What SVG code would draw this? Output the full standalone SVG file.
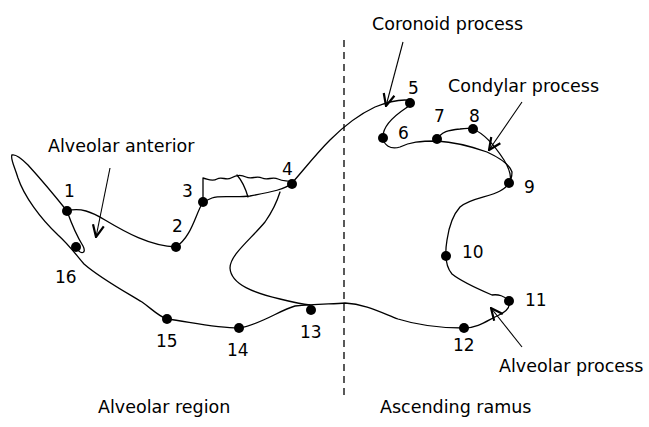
<svg xmlns="http://www.w3.org/2000/svg" width="649" height="427" viewBox="0 0 649 427">
<defs>
<marker id="v" viewBox="0 0 14 14" refX="13" refY="7" markerWidth="14" markerHeight="14" markerUnits="userSpaceOnUse" orient="auto">
<path d="M1,1.5 L13,7 L1,12.5" fill="none" stroke="#000" stroke-width="2.2"/>
</marker>
<style>
.o{fill:none;stroke:#000;stroke-width:1.3;stroke-linejoin:round;stroke-linecap:round}
.a{fill:none;stroke:#000;stroke-width:1.1}
.d{fill:#000}
text{font-family:"DejaVu Sans","Verdana",sans-serif;fill:#000}
.n{font-size:17px}
.l{font-size:17.5px}
</style>
</defs>
<rect width="649" height="427" fill="#fff"/>
<g id="outline">
<path class="o" d="M12,155 C10,158 14,165 18,178 C24,196 40,218 58,235 C68,244 74,252 84,264 C100,278 122,290 142,302 C152,309 158,316 167,319 C190,322 215,328 239,328 C260,325 280,310 295,306 C315,304 332,304 345,303 C365,304 380,312 398,319 C420,326 440,328 464,328 C478,328 488,320 497,316 C504,313 511,308 509,301"/>
<path class="o" d="M509,301 C505,296 498,294 492,295 C478,289 462,282 452,274 C445,266 445,252 447,240 C449,226 452,216 460,207 C470,198 490,197 500,191 C508,187 512,180 512,172 C510,165 500,158 487,152 C470,146 455,142 437,141 C420,141 410,142 400,147 C390,150 384,145 383,138 C382,126 394,116 406,108 C412,104 411,100 405,100 C395,100 385,103 375,107 C360,114 345,125 330,140 C315,155 302,172 292,183"/>
<path class="o" d="M437,141 C440,131 450,130 460,129 C466,128 470,128 473,129 C485,134 495,146 504,160 C509,168 512,175 510,183"/>
<path class="o" d="M292,183 C286,189 272,192 250,196 C235,198 220,195 212,198 L203,202"/>
<path class="o" d="M203,202 C195,215 192,236 176,247"/>
<path class="o" d="M67,211 C80,207 92,212 105,220 C125,232 150,246 176,247"/>
<path class="o" d="M67,211 C55,196 38,176 28,165 C20,157 15,154 12,155"/>
<path class="o" d="M67,211 C72,225 78,238 83,246 C87,253 81,256 76,247"/>
<path class="o" d="M280,192 C276,205 272,212 265,222 C250,240 230,255 230,268 C231,285 255,293 280,299 C292,302 300,304 310,305"/>
<path class="o" d="M203,202 L203,178 C208,179 212,182 217,179 C222,176 226,181 231,178 C236,175 240,174 246,177 C252,180 256,175 262,178 C268,181 272,176 278,179 C284,182 287,180 291,182"/>
<path class="o" d="M237,175 C243,182 246,190 248,197"/>
</g>
<g id="connectors">
<line x1="344" y1="40" x2="344" y2="397" stroke="#000" stroke-width="1.3" stroke-dasharray="7,5"/>
<line class="a" x1="110" y1="168" x2="96" y2="237" marker-end="url(#v)"/>
<line class="a" x1="403" y1="42" x2="386" y2="106" marker-end="url(#v)"/>
<line class="a" x1="522" y1="102" x2="489" y2="150" marker-end="url(#v)"/>
<line class="a" x1="522" y1="347" x2="491" y2="308" marker-end="url(#v)"/>
</g>
<g id="points">
<circle class="d" cx="67" cy="211" r="5"/>
<circle class="d" cx="176" cy="247" r="5"/>
<circle class="d" cx="203" cy="202" r="5"/>
<circle class="d" cx="292" cy="184" r="5"/>
<circle class="d" cx="410" cy="103" r="5"/>
<circle class="d" cx="383" cy="138" r="5"/>
<circle class="d" cx="437" cy="139" r="5"/>
<circle class="d" cx="473" cy="129" r="5"/>
<circle class="d" cx="509" cy="183" r="5"/>
<circle class="d" cx="446" cy="256" r="5"/>
<circle class="d" cx="509" cy="301" r="5"/>
<circle class="d" cx="464" cy="328" r="5"/>
<circle class="d" cx="311" cy="310" r="5"/>
<circle class="d" cx="239" cy="328" r="5"/>
<circle class="d" cx="167" cy="319" r="5"/>
<circle class="d" cx="76" cy="247" r="5"/>
</g>
<g id="numbers">
<text class="n" x="64" y="197">1</text>
<text class="n" x="172" y="232">2</text>
<text class="n" x="182" y="197">3</text>
<text class="n" x="282" y="175">4</text>
<text class="n" x="408" y="94">5</text>
<text class="n" x="398" y="139">6</text>
<text class="n" x="434" y="122">7</text>
<text class="n" x="469" y="122">8</text>
<text class="n" x="524" y="193">9</text>
<text class="n" x="462" y="258">10</text>
<text class="n" x="525" y="306">11</text>
<text class="n" x="453" y="351">12</text>
<text class="n" x="300" y="338">13</text>
<text class="n" x="227" y="356">14</text>
<text class="n" x="156" y="347">15</text>
<text class="n" x="55" y="283">16</text>
</g>
<g id="labels">
<text class="l" x="48" y="152">Alveolar anterior</text>
<text class="l" x="372" y="30">Coronoid process</text>
<text class="l" x="448" y="92">Condylar process</text>
<text class="l" x="499" y="372">Alveolar process</text>
<text class="l" x="98" y="413">Alveolar region</text>
<text class="l" x="380" y="413">Ascending ramus</text>
</g>
</svg>
